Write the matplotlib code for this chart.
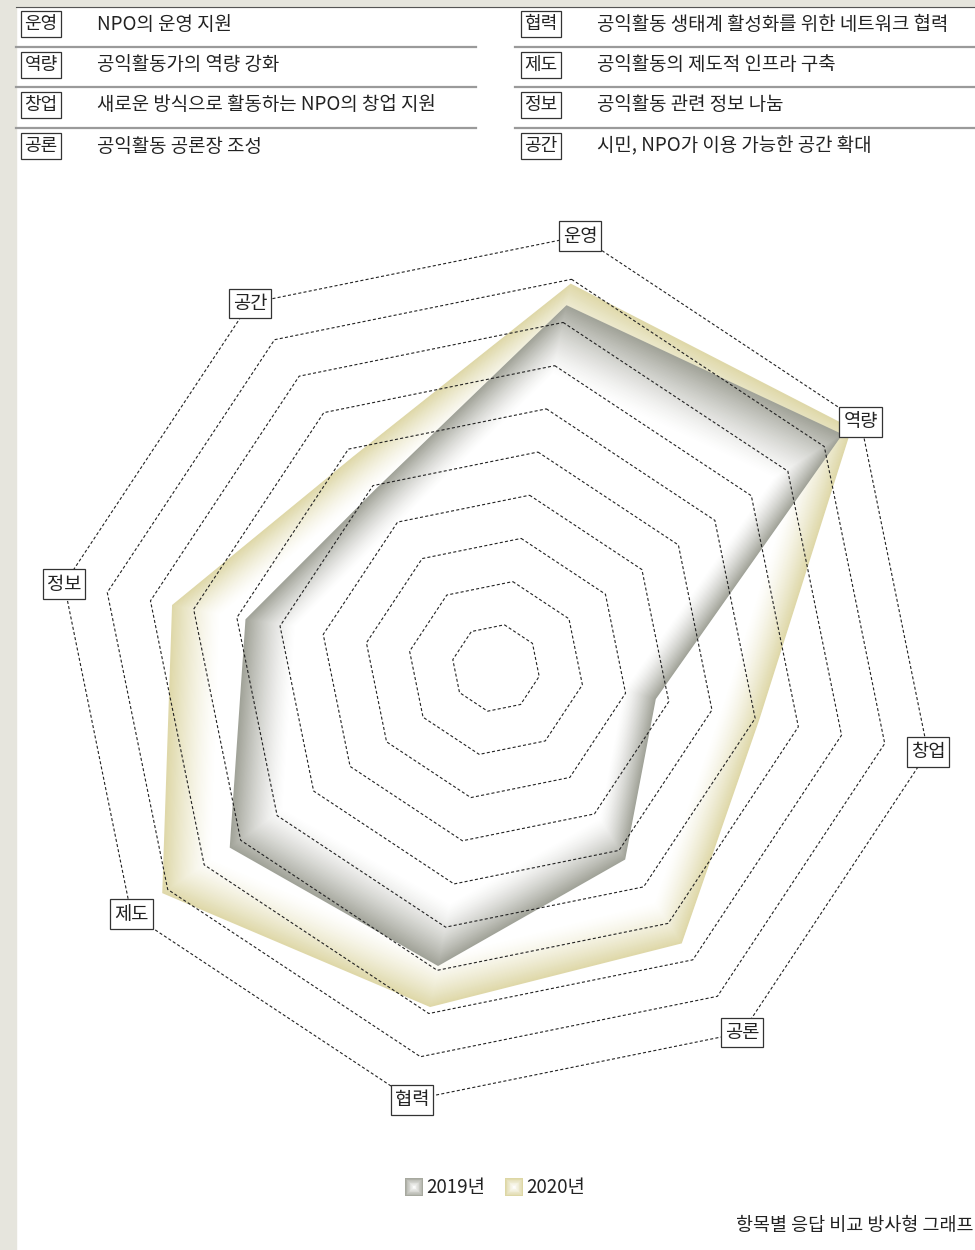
import numpy as np
import matplotlib
matplotlib.use('Agg')
import matplotlib.pyplot as plt
from matplotlib.patches import Polygon, Rectangle
from matplotlib.lines import Line2D
from matplotlib.colors import to_rgb

plt.rcParams['font.family'] = ['Noto Sans CJK KR', 'DejaVu Sans']
plt.rcParams['lines.scale_dashes'] = False

# items of the radar, clockwise from the top
axis_labels = ['운영', '역량', '창업', '공론', '협력', '제도', '정보', '공간']
descriptions = ['NPO의 운영 지원', '공익활동가의 역량 강화',
                '새로운 방식으로 활동하는 NPO의 창업 지원', '공익활동 공론장 조성',
                '공익활동 생태계 활성화를 위한 네트워크 협력', '공익활동의 제도적 인프라 구축',
                '공익활동 관련 정보 나눔', '시민, NPO가 이용 가능한 공간 확대']
values_2019 = [8.4, 9.5, 3.7, 5.25, 6.9, 7.3, 5.8, 4.9]
values_2020 = [8.9, 9.75, 6.1, 7.55, 7.85, 9.15, 7.5, 5.8]
levels = list(range(1, 11))
series_names = ['2019년', '2020년']
title = '항목별 응답 비교 방사형 그래프'

W, H = 975, 1250
cx, cy = 496, 668      # centre of the radar in pixels
unit = 44              # pixels per value step
rot = 11               # degrees the first axis is turned clockwise

theta = np.deg2rad(rot + 45 * np.arange(len(axis_labels)))


def radar_xy(vals):
    vals = np.asarray(vals, dtype=float)
    return np.column_stack([vals * np.sin(theta), vals * np.cos(theta)])


def to_data(px, py):
    return (px - cx) / unit, (cy - py) / unit


def fx(px):
    return px / W


def fy(py):
    return 1 - py / H


def shaded_polygon(ax, xy, color, edge_alpha, s0, zorder, n=45, power=1.4):
    # path gradient: edge colour at the outline, white from s0 of the way in
    xy = np.asarray(xy, dtype=float)
    c = xy.mean(axis=0)
    rgb = np.array(to_rgb(color))
    scales = np.linspace(1, s0, n + 1)
    for s in scales:
        t = edge_alpha * ((s - s0) / (1 - s0)) ** power
        fc = 1 - t * (1 - rgb)
        ax.add_patch(Polygon(c + s * (xy - c), closed=True, fc=fc, ec='none',
                             zorder=zorder))


fig = plt.figure(figsize=(W / 100, H / 100), dpi=100)
fig.patch.set_facecolor('white')
ax = fig.add_axes([0, 0, 1, 1])
ax.set_xlim(-cx / unit, (W - cx) / unit)
ax.set_ylim(-(H - cy) / unit, cy / unit)
ax.axis('off')

# page strips
fig.add_artist(Rectangle((0, 0), fx(16), 1, transform=fig.transFigure,
                         color='#e6e5dd', zorder=0))
fig.add_artist(Rectangle((0, fy(7)), 1, 7 / H, transform=fig.transFigure,
                         color='#e6e5dd', zorder=0))
fig.add_artist(Line2D([fx(16), 1], [fy(7), fy(7)], transform=fig.transFigure,
                      color='#555555', lw=0.8))

# top table of abbreviations
row_y = [24, 65, 105, 146]
sep_y = [47, 87, 128]
cols = [(16, 476, 41, 97), (515, 975, 541, 597)]
for c, (x0, x1, bx, tx) in enumerate(cols):
    for s in sep_y:
        fig.add_artist(Line2D([fx(x0), fx(x1)], [fy(s), fy(s)], transform=fig.transFigure,
                              color='#9a9a9a', lw=1.6))
    for r in range(4):
        k = c * 4 + r
        fig.text(fx(bx), fy(row_y[r]), axis_labels[k], ha='center', va='center',
                 fontsize=13, color='#222222',
                 bbox=dict(boxstyle='square,pad=0.2', fc='white', ec='#333333', lw=0.9))
        fig.text(fx(tx), fy(row_y[r]), descriptions[k], ha='left', va='center',
                 fontsize=13.6, color='#222222')

# series polygons
shaded_polygon(ax, radar_xy(values_2020), '#d2c987', 0.72, 0.85, zorder=2)
shaded_polygon(ax, radar_xy(values_2019), '#8a8c7f', 0.8, 0.80, zorder=3)

# octagon grid
for lv in levels:
    ring = radar_xy([lv] * len(axis_labels))
    ring = np.vstack([ring, ring[:1]])
    ax.plot(ring[:, 0], ring[:, 1], color='#222222', lw=0.8,
            linestyle=(0, (2.2, 1.6)), zorder=4)

# axis labels at the outer ring
outer = radar_xy([levels[-1]] * len(axis_labels))
for (x, y), lab in zip(outer, axis_labels):
    ax.text(x, y, lab, ha='center', va='center', fontsize=13.5, color='#222222', zorder=6,
            bbox=dict(boxstyle='square,pad=0.22', fc='white', ec='#333333', lw=0.9))

# legend
sw = 18
for (px, name), col in zip([(405, series_names[0]), (505, series_names[1])],
                           ['#8a8c7f', '#d2c987']):
    x0, y0 = to_data(px, 1196)
    x1, y1 = to_data(px + sw, 1178)
    sq = [(x0, y0), (x1, y0), (x1, y1), (x0, y1)]
    shaded_polygon(ax, sq, col, 0.75, 0.0, zorder=5, n=12, power=1.2)
    fig.text(fx(px + sw + 3), fy(1187), name, ha='left', va='center',
             fontsize=13.5, color='#222222')

fig.text(fx(974), fy(1226), title, ha='right', va='center', fontsize=13.3, color='#222222')

fig.savefig('out.png', dpi=100)
